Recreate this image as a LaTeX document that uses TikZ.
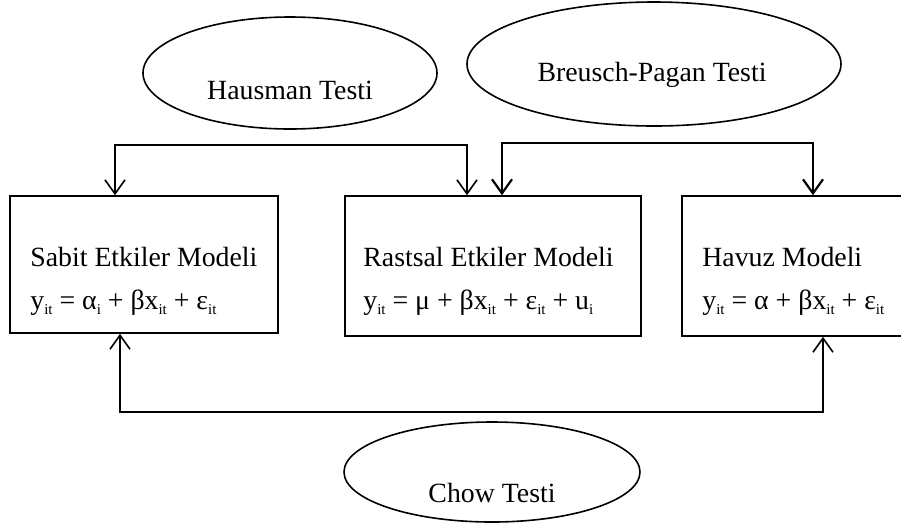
\documentclass[tikz,border=0pt]{standalone}
\usepackage{fontspec}
\setmainfont{Liberation Serif}
\usetikzlibrary{shapes.geometric,arrows.meta}
% small lowered index, as in y_it
\newcommand{\sub}[1]{\raisebox{-0.35ex}{\fontsize{7.5pt}{8pt}\selectfont #1}}
\begin{document}
\begin{tikzpicture}[x=0.5pt,y=-0.5pt,
  font=\fontsize{13.9pt}{16pt}\selectfont,
  modelbox/.style={draw,line width=0.8pt,inner sep=0pt},
  testoval/.style={draw,ellipse,line width=0.8pt,inner sep=0pt},
  label/.style={anchor=west,inner sep=0pt},
  link/.style={line width=0.8pt,{Straight Barb[length=7pt,width=10pt]}-{Straight Barb[length=7pt,width=10pt]}},
  boldlink/.style={link,line width=1.1pt}]
\useasboundingbox (0,0) rectangle (901,527);

% model boxes
\node[modelbox,minimum width=134pt,minimum height=68.5pt] (fe) at (144,264.5) {};
\node[modelbox,minimum width=148pt,minimum height=70pt] (re) at (493,266) {};
\node[modelbox,minimum width=130pt,minimum height=70pt] (pool) at (812,266) {};

% box texts
\node[label] (feT) at (30,257) {Sabit Etkiler Modeli};
\node[label] (feE) at (30,303) {y\sub{it} = α\sub{i} + βx\sub{it} + ε\sub{it}};
\node[label] (reT) at (363,257) {Rastsal Etkiler Modeli};
\node[label] (reE) at (363,303) {y\sub{it} = μ + βx\sub{it} + ε\sub{it} + u\sub{i}};
\node[label] (poolT) at (702,257) {Havuz Modeli};
\node[label] (poolE) at (702,303) {y\sub{it} = α + βx\sub{it} + ε\sub{it}};

% test ellipses
\node[testoval,minimum width=147pt,minimum height=56pt] (haus) at (290,73) {};
\node[anchor=center] (hausT) at (290,90) {Hausman Testi};
\node[testoval,minimum width=187pt,minimum height=62pt] (bp) at (654,64) {};
\node[anchor=center] (bpT) at (652,75) {Breusch-Pagan Testi};
\node[testoval,minimum width=148pt,minimum height=50pt] (chow) at (492,472) {};
\node[anchor=center] (chowT) at (492,493) {Chow Testi};

% connectors
\coordinate (hL) at (115,145);
\coordinate (hR) at (467,145);
\draw[link] (fe.north -| hL) |- (hR) -- (re.north -| hR);

\coordinate (bL) at (502,143);
\coordinate (bR) at (813,143);
\draw[boldlink] (re.north -| bL) |- (bR) -- (pool.north -| bR);

\coordinate (cL) at (120,412);
\coordinate (cR) at (823,412);
\draw[link] (fe.south -| cL) |- (cR) -- (pool.south -| cR);
\end{tikzpicture}
\end{document}
